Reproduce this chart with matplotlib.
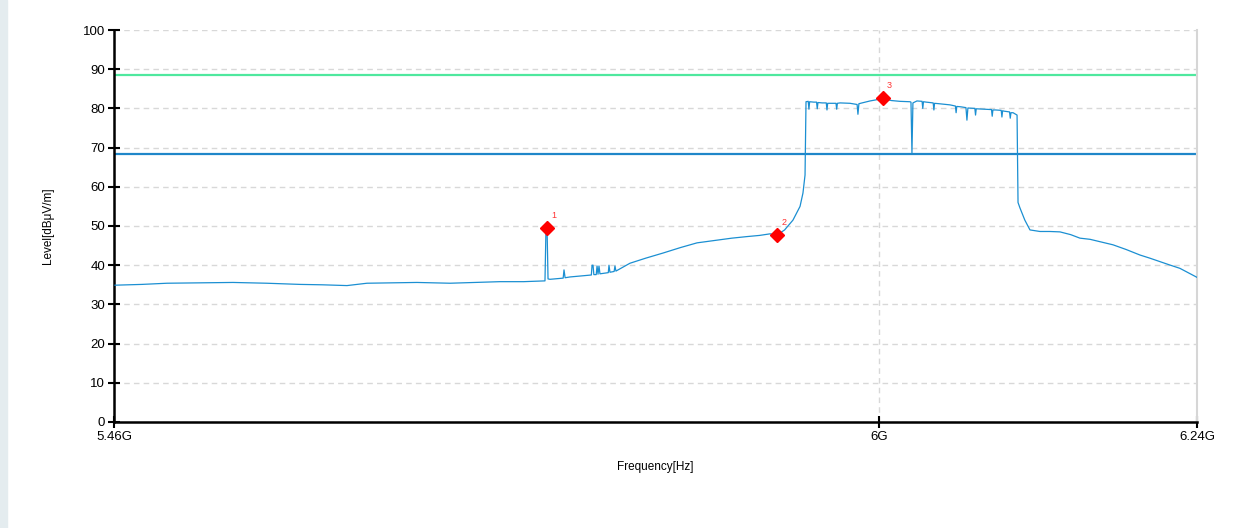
import numpy as np
import matplotlib.pyplot as plt

# measured trace, frequency in GHz and level in dBuV/m
freq = [5.4607, 5.4800, 5.4982, 5.5200, 5.5457, 5.5700, 5.5940, 5.6100, 5.6278, 5.6422,
        5.6600, 5.6782, 5.7020, 5.7200, 5.7380, 5.7550, 5.7704,
        5.7711, 5.7719, 5.7726, 5.7740,
        5.7835, 5.7841, 5.7849, 5.7884, 5.7980,
        5.8038, 5.8043, 5.8050, 5.8056, 5.8073, 5.8079, 5.8086, 5.8093, 5.8100,
        5.8160, 5.8165, 5.8172, 5.8202, 5.8208, 5.8215,
        5.8316, 5.8430, 5.8554, 5.8680, 5.8799, 5.8943, 5.9050, 5.9159, 5.9250, 5.9325,
        5.9375, 5.9430, 5.9490, 5.9541, 5.9562, 5.9577,
        5.9584, 5.9600, 5.9605, 5.9610, 5.9640, 5.9660, 5.9665, 5.9670, 5.9700, 5.9730,
        5.9735, 5.9740, 5.9757, 5.9800, 5.9805, 5.9810, 5.9830, 5.9901, 5.9952, 5.9958,
        5.9965, 6.0045, 6.0138, 6.0200, 6.0261, 6.0333, 6.0340, 6.0347, 6.0354, 6.0383,
        6.0420, 6.0425, 6.0430, 6.0450, 6.0500, 6.0505, 6.0510, 6.0540, 6.0621, 6.0660,
        6.0665, 6.0670, 6.0700, 6.0736, 6.0743, 6.0750, 6.0800, 6.0805, 6.0810, 6.0859,
        6.0920, 6.0925, 6.0930, 6.0950, 6.0990, 6.0995, 6.1000, 6.1010, 6.1050, 6.1055,
        6.1060, 6.1075, 6.1104,
        6.1111, 6.1125, 6.1160, 6.1197, 6.1269, 6.1340, 6.1413, 6.1490, 6.1557,
        6.1630, 6.1701, 6.1795, 6.1890, 6.1989, 6.2060, 6.2134, 6.2200, 6.2277, 6.2400]
level = [34.9, 35.1, 35.4, 35.5, 35.6, 35.4, 35.1, 35.0, 34.8, 35.4,
         35.5, 35.6, 35.4, 35.6, 35.8, 35.8, 36.0,
         49.0, 49.2, 36.5, 36.4,
         36.7, 38.8, 36.8, 37.0, 37.3,
         37.5, 40.0, 40.0, 37.6, 37.6, 39.8, 37.7, 39.8, 37.8,
         38.1, 40.0, 38.2, 38.4, 39.8, 38.5,
         40.5, 41.8, 43.1, 44.5, 45.7, 46.4, 46.9, 47.3, 47.6, 48.0,
         47.7, 49.0, 51.5, 55.0, 58.4, 63.0,
         81.7, 81.8, 79.8, 81.7, 81.6, 81.6, 79.9, 81.5, 81.4, 81.4,
         79.6, 81.3, 81.3, 81.3, 79.8, 81.3, 81.4, 81.3, 81.0, 78.5,
         81.2, 81.9, 82.5, 82.0, 81.8, 81.7, 81.6, 68.6, 81.4, 81.9,
         81.8, 80.0, 81.7, 81.6, 81.4, 79.6, 81.3, 81.2, 80.9, 80.6,
         78.9, 80.5, 80.4, 80.2, 77.0, 80.1, 80.0, 78.3, 79.9, 79.8,
         79.7, 78.0, 79.6, 79.6, 79.5, 77.8, 79.4, 79.3, 79.1, 77.5,
         78.9, 78.9, 78.3,
         56.0, 54.6, 51.5, 49.0, 48.6, 48.6, 48.5, 47.8, 46.9,
         46.6, 46.0, 45.2, 44.0, 42.6, 41.8, 40.9, 40.1, 39.2, 36.9]

# markers
marker_freq = [5.7719, 5.9375, 6.0138]
marker_level = [49.5, 47.7, 82.6]
marker_name = ['1', '2', '3']

# limit lines
limit_upper = 88.5
limit_lower = 68.4

x_ticks = [5.46, 6.011, 6.24]
x_labels = ['5.46G', '6G', '6.24G']
y_ticks = list(range(0, 101, 10))

plt.rcParams['font.family'] = ['Liberation Sans', 'DejaVu Sans']

fig = plt.figure(figsize=(12.59, 5.28), dpi=100)
fig.patches.append(plt.Rectangle((0, 0), 7 / 1259, 1, transform=fig.transFigure,
                                 color='#e4ecef', zorder=0))
ax = fig.add_axes([114 / 1259, 106 / 528, 1083 / 1259, 392 / 528])

ax.axhline(limit_upper, color='#4ee89e', lw=1.6, zorder=2)
ax.axhline(limit_lower, color='#1f87c9', lw=1.6, zorder=2)
ax.plot(freq, level, color='#1b8fd2', lw=0.9, zorder=3)
ax.plot(marker_freq, marker_level, 'D', color='#ff0000', ms=7.5, zorder=4)
for f, l, n in zip(marker_freq, marker_level, marker_name):
    ax.annotate(n, (f, l), xytext=(3, 7), textcoords='offset points',
                color='#ff3333', fontsize=6.5)

ax.set_xlim(5.46, 6.24)
ax.set_ylim(0, 100)
ax.set_xticks(x_ticks)
ax.set_xticklabels(x_labels)
ax.set_yticks(y_ticks)
ax.grid(True, color='#d8d8d8', ls=(0, (4, 3)), lw=1)
ax.set_axisbelow(True)
ax.tick_params(direction='inout', length=9, width=1.5, labelsize=9.5, colors='black', pad=2)

for s in ['left', 'bottom']:
    ax.spines[s].set_linewidth(1.8)
ax.spines['top'].set_visible(False)
ax.spines['right'].set_color('#d6d6d6')
ax.spines['right'].set_linewidth(1.5)

ax.set_xlabel('Frequency[Hz]', fontsize=8.5, labelpad=13)
ax.set_ylabel('Level[dBμV/m]', fontsize=8.5, labelpad=21)

fig.savefig('out.png', dpi=100)
